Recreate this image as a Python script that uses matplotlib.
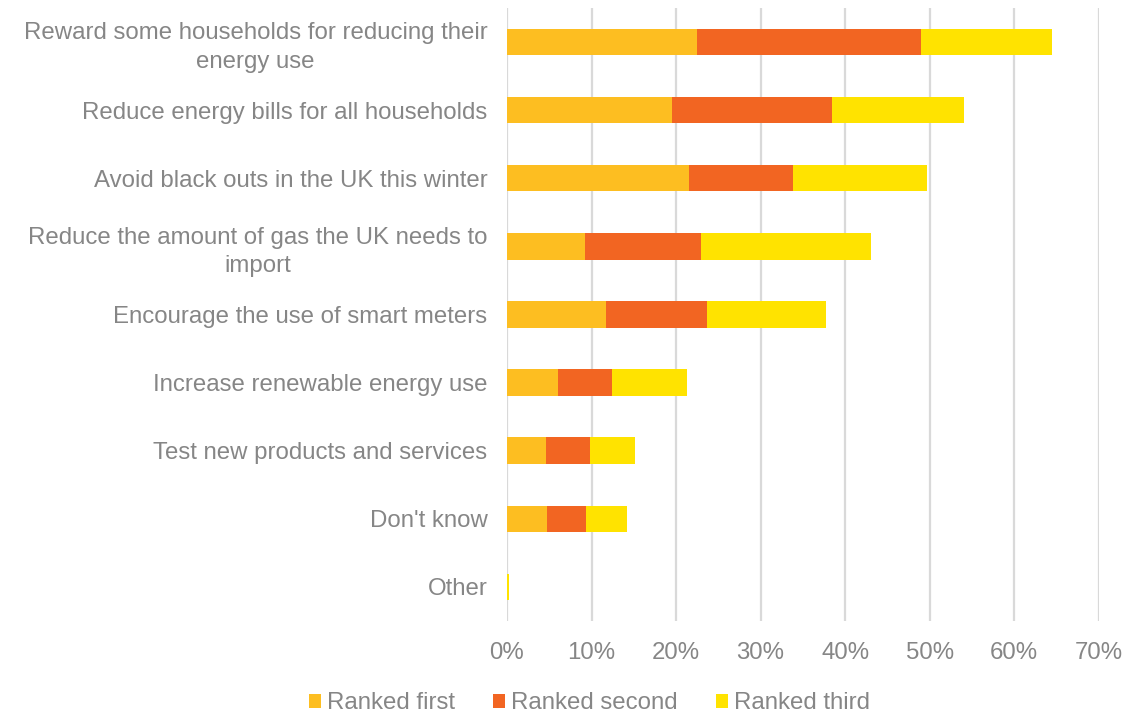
import matplotlib
matplotlib.use("Agg")
import matplotlib.pyplot as plt
import numpy as np
from matplotlib.ticker import FuncFormatter

categories = [
    "Reward some households for reducing their\nenergy use",
    "Reduce energy bills for all households",
    "Avoid black outs in the UK this winter",
    "Reduce the amount of gas the UK needs to\nimport",
    "Encourage the use of smart meters",
    "Increase renewable energy use",
    "Test new products and services",
    "Don't know",
    "Other",
]
ranked_first = [22.5, 19.5, 21.5, 9.2, 11.7, 6.0, 4.6, 4.7, 0.0]
ranked_second = [26.5, 19.0, 12.3, 13.8, 11.9, 6.4, 5.2, 4.7, 0.0]
ranked_third = [15.5, 15.5, 15.9, 20.1, 14.1, 8.9, 5.4, 4.8, 0.2]
series_names = ["Ranked first", "Ranked second", "Ranked third"]
series_colors = ["#FDBE21", "#F26522", "#FFE300"]
x_ticks = [0, 10, 20, 30, 40, 50, 60, 70]

plt.rcParams["font.family"] = ["Liberation Sans", "DejaVu Sans"]
text_color = "#868686"
fs = 17.3

fig = plt.figure(figsize=(11.47, 7.13), dpi=100)
ax = fig.add_axes([0.442, 0.129, 0.516, 0.860])

y = np.arange(len(categories))
left = np.zeros(len(categories))
for vals, name, col in zip([ranked_first, ranked_second, ranked_third], series_names, series_colors):
    vals = np.array(vals)
    ax.barh(y, vals, left=left, height=0.39, color=col, label=name, zorder=3)
    left += vals

ax.set_ylim(len(categories) - 0.5, -0.5)
ax.set_xlim(0, 70)
ax.set_xticks(x_ticks)
ax.xaxis.set_major_formatter(FuncFormatter(lambda v, p: f"{v:.0f}%"))
ax.set_yticks(y)
ax.set_yticklabels(categories, ha="right", multialignment="center", linespacing=1.38)
ax.tick_params(axis="both", length=0, colors=text_color, labelsize=fs)
ax.tick_params(axis="y", pad=14)
ax.tick_params(axis="x", pad=15)
ax.grid(axis="x", color="#D9D9D9", linewidth=1.6, zorder=0)
for s in ax.spines.values():
    s.set_visible(False)

fig.legend(loc="lower center", bbox_to_anchor=(0.514, -0.032), ncol=3, frameon=False,
           fontsize=fs, labelcolor=text_color, handlelength=0.5, handleheight=0.5,
           handletextpad=0.25, columnspacing=1.6)

fig.savefig("out.png", dpi=100)
